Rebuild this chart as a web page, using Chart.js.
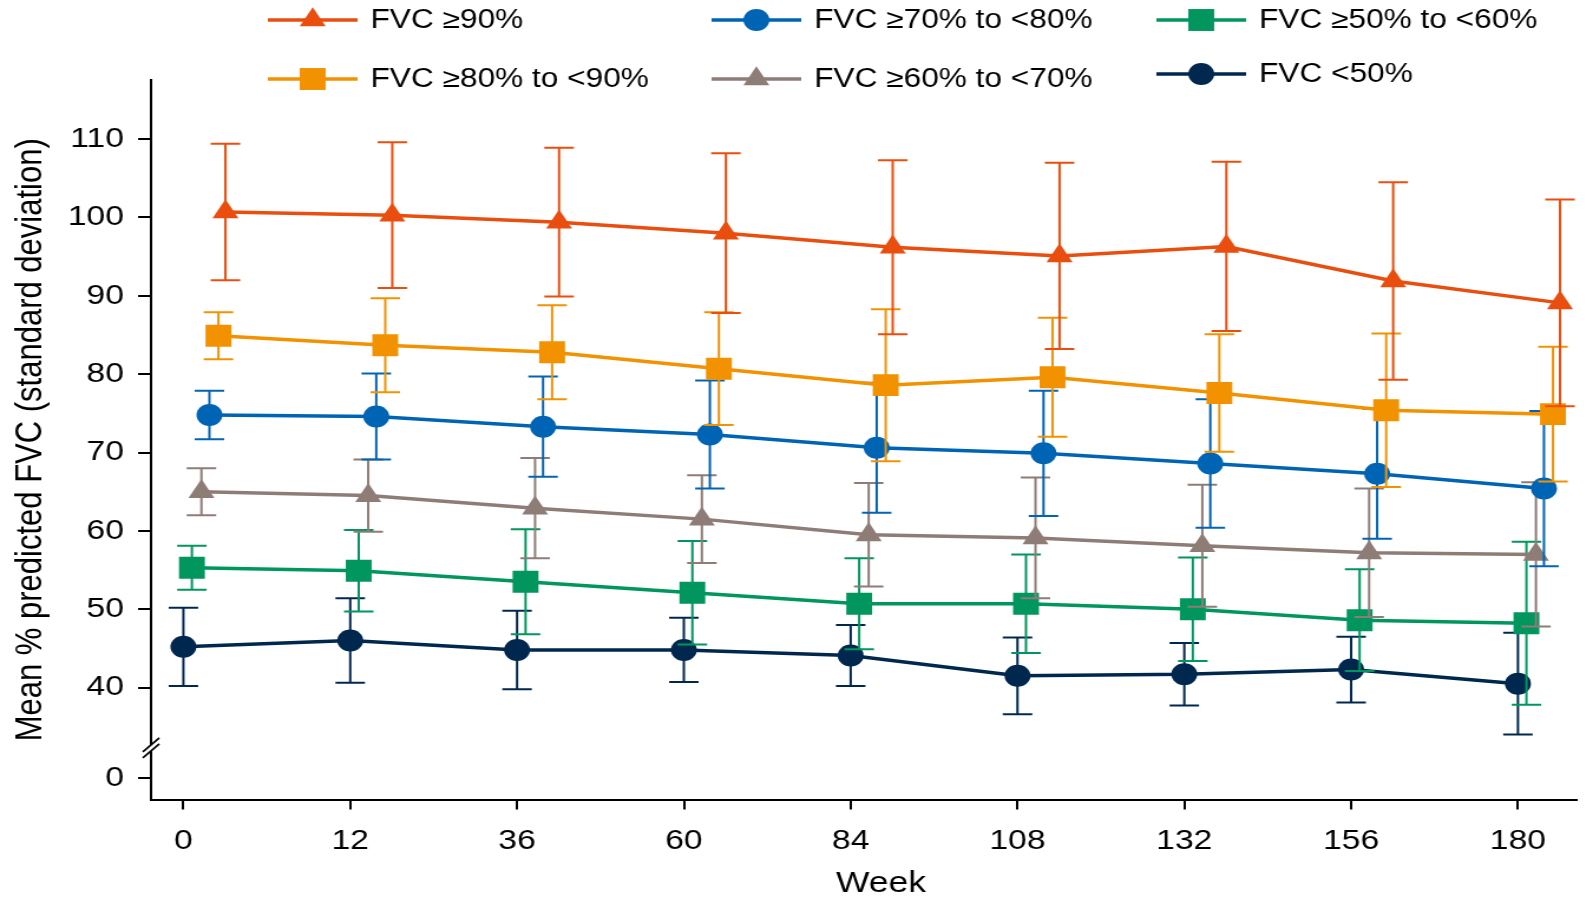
<!DOCTYPE html>
<html>
<head>
<meta charset="utf-8">
<script src="https://cdn.jsdelivr.net/npm/chart.js@4.4.0/dist/chart.umd.min.js"></script>
<style>
  html, body { margin: 0; padding: 0; background: #fff; overflow: hidden; }
  /* the figure is drawn on a narrower canvas and stretched sideways */
  #wrap { width: 1352px; height: 898px; transform: scaleX(1.18); transform-origin: 0 0; }
</style>
</head>
<body>
<div id="wrap"><canvas id="fvcChart" width="1352" height="898"></canvas></div>
<script>
const weeks = [0, 12, 36, 60, 84, 108, 132, 156, 180];

// mean % predicted FVC and SD per baseline FVC group
const fvc90Mean = [100.7, 100.3, 99.4, 98.0, 96.2, 95.1, 96.3, 91.9, 89.1];
const fvc90Sd   = [8.7, 9.3, 9.5, 10.2, 11.1, 11.9, 10.8, 12.6, 13.2];
const fvc80Mean = [84.9, 83.7, 82.8, 80.7, 78.6, 79.6, 77.6, 75.4, 74.9];
const fvc80Sd   = [3.0, 6.0, 6.0, 7.2, 9.7, 7.6, 7.5, 9.8, 8.6];
const fvc70Mean = [74.8, 74.6, 73.3, 72.3, 70.6, 69.9, 68.6, 67.3, 65.4];
const fvc70Sd   = [3.1, 5.5, 6.4, 6.9, 8.3, 8.0, 8.2, 8.3, 9.9];
const fvc60Mean = [65.0, 64.5, 62.9, 61.5, 59.5, 59.1, 58.1, 57.2, 57.0];
const fvc60Sd   = [3.0, 4.6, 6.4, 5.6, 6.6, 7.7, 7.8, 8.2, 9.2];
const fvc50Mean = [55.3, 54.9, 53.5, 52.1, 50.7, 50.7, 50.0, 48.6, 48.2];
const fvc50Sd   = [2.8, 5.2, 6.7, 6.6, 5.8, 6.3, 6.6, 6.5, 10.4];
const fvcLowMean = [45.2, 46.0, 44.8, 44.8, 44.1, 41.5, 41.7, 42.3, 40.5];
const fvcLowSd   = [5.0, 5.4, 5.0, 4.1, 3.9, 4.9, 4.0, 4.2, 6.5];

const yTickLabels = ['0', '40', '50', '60', '70', '80', '90', '100', '110'];
// the y axis is broken: "0" sits just below the break
const zeroAt = 28.4;
const breakAt = 32.3;

Chart.defaults.font.family = "'Liberation Sans', Arial, sans-serif";
Chart.defaults.color = '#000';

function series(label, color, means, sd, style, radius, dodge) {
  return {
    label: label,
    data: means.map((m, i) => ({ x: i + dodge, y: m })),
    sd: sd,
    borderColor: color,
    backgroundColor: color,
    borderWidth: 3.5,
    pointStyle: style,
    pointRadius: radius,
    pointHoverRadius: radius,
    pointBorderWidth: 0,
    pointBackgroundColor: color,
    tension: 0
  };
}

// vertical SD whiskers with caps, drawn under each series' own line
const errorBars = {
  id: 'errorBars',
  beforeDatasetDraw(chart, args) {
    const ctx = chart.ctx;
    const y = chart.scales.y;
    const ds = chart.data.datasets[args.index];
    ctx.save();
    ctx.strokeStyle = ds.borderColor;
    ctx.lineWidth = 2;
    args.meta.data.forEach((pt, i) => {
      const m = ds.data[i].y;
      const top = y.getPixelForValue(m + ds.sd[i]);
      const bot = y.getPixelForValue(m - ds.sd[i]);
      ctx.beginPath();
      ctx.moveTo(pt.x, top); ctx.lineTo(pt.x, bot);
      ctx.moveTo(pt.x - 12.5, top); ctx.lineTo(pt.x + 12.5, top);
      ctx.moveTo(pt.x - 12.5, bot); ctx.lineTo(pt.x + 12.5, bot);
      ctx.stroke();
    });
    ctx.restore();
  }
};

// three-column legend with line + marker swatches
const legendSlots = [
  { x: 227, y: 20 }, { x: 227, y: 79 },
  { x: 603, y: 20 }, { x: 603, y: 79 },
  { x: 980, y: 20 }, { x: 980, y: 74 }
];

const gridLegend = {
  id: 'gridLegend',
  afterDraw(chart) {
    const ctx = chart.ctx;
    chart.data.datasets.forEach((ds, i) => {
      const s = legendSlots[i];
      ctx.save();
      ctx.strokeStyle = ds.borderColor;
      ctx.fillStyle = ds.borderColor;
      ctx.lineWidth = 3.5;
      ctx.beginPath();
      ctx.moveTo(s.x, s.y);
      ctx.lineTo(s.x + 76, s.y);
      ctx.stroke();
      Chart.helpers.drawPoint(ctx, { pointStyle: ds.pointStyle, radius: ds.pointRadius, rotation: 0, borderWidth: 0 }, s.x + 38, s.y);
      ctx.fillStyle = '#000';
      ctx.font = "26.8px 'Liberation Sans', Arial, sans-serif";
      ctx.textAlign = 'left';
      ctx.textBaseline = 'middle';
      ctx.fillText(ds.label, s.x + 87, s.y + 1);
      ctx.restore();
    });
  }
};

// axis break on the y axis, and the x axis title
const axisExtras = {
  id: 'axisExtras',
  afterDraw(chart) {
    const ctx = chart.ctx;
    const x0 = chart.chartArea.left;
    const yb = chart.scales.y.getPixelForValue(breakAt);
    ctx.save();
    ctx.fillStyle = '#fff';
    ctx.beginPath();
    ctx.moveTo(x0 - 7, yb + 4);
    ctx.lineTo(x0 + 7, yb - 10);
    ctx.lineTo(x0 + 7, yb - 4);
    ctx.lineTo(x0 - 7, yb + 10);
    ctx.closePath();
    ctx.fill();
    ctx.strokeStyle = '#000';
    ctx.lineWidth = 1.6;
    ctx.beginPath();
    ctx.moveTo(x0 - 7, yb + 4); ctx.lineTo(x0 + 7, yb - 10);
    ctx.moveTo(x0 - 7, yb + 10); ctx.lineTo(x0 + 7, yb - 4);
    ctx.stroke();

    ctx.fillStyle = '#000';
    ctx.font = "30px 'Liberation Sans', Arial, sans-serif";
    ctx.textAlign = 'center';
    ctx.textBaseline = 'middle';
    ctx.fillText('Week', 746.6, 884);
    ctx.restore();
  }
};

const FVC = document.getElementById('fvcChart');

const fvcChart = new Chart(FVC, {
  type: 'line',
  data: {
    datasets: [
      series('FVC \u226590%', '#E94E0F', fvc90Mean, fvc90Sd, 'triangle', 12.7, 0.252),
      series('FVC \u226580% to <90%', '#F39200', fvc80Mean, fvc80Sd, 'rect', 15.5, 0.21),
      series('FVC \u226570% to <80%', '#0064B4', fvc70Mean, fvc70Sd, 'circle', 11, 0.156),
      series('FVC \u226560% to <70%', '#8E7C77', fvc60Mean, fvc60Sd, 'triangle', 12.7, 0.108),
      series('FVC \u226550% to <60%', '#00965E', fvc50Mean, fvc50Sd, 'rect', 15.5, 0.051),
      series('FVC <50%', '#00284F', fvcLowMean, fvcLowSd, 'circle', 11, 0)
    ]
  },
  options: {
    responsive: false,
    animation: false,
    layout: { padding: { top: 80, right: 16, left: 0, bottom: 0 } },
    plugins: {
      legend: { display: false },
      tooltip: { enabled: false }
    },
    scales: {
      x: {
        type: 'linear',
        min: -0.194,
        max: 8.351,
        afterBuildTicks: s => { s.ticks = weeks.map((w, i) => ({ value: i })); },
        afterFit: s => { s.height = 98.4; },
        ticks: {
          callback: v => weeks[v],
          font: { size: 28.5 },
          padding: 14,
          maxRotation: 0
        },
        grid: { drawOnChartArea: false, tickLength: 10, color: '#000', lineWidth: 2 },
        border: { color: '#000', width: 2 }
      },
      y: {
        type: 'linear',
        min: 25.7,
        max: 117.55,
        afterBuildTicks: s => {
          s.ticks = yTickLabels.map(t => ({ value: t === '0' ? zeroAt : Number(t) }));
        },
        afterFit: s => { s.width = 128; },
        ticks: {
          callback: (v, i) => yTickLabels[i],
          font: { size: 28.5 },
          padding: 12
        },
        grid: { drawOnChartArea: false, tickLength: 11, color: '#000', lineWidth: 2 },
        border: { color: '#000', width: 2 },
        title: {
          display: true,
          text: 'Mean % predicted FVC (standard deviation)',
          font: { size: 31 },
          padding: { top: 8, bottom: 0 }
        }
      }
    }
  },
  plugins: [errorBars, gridLegend, axisExtras]
});
</script>
</body>
</html>
